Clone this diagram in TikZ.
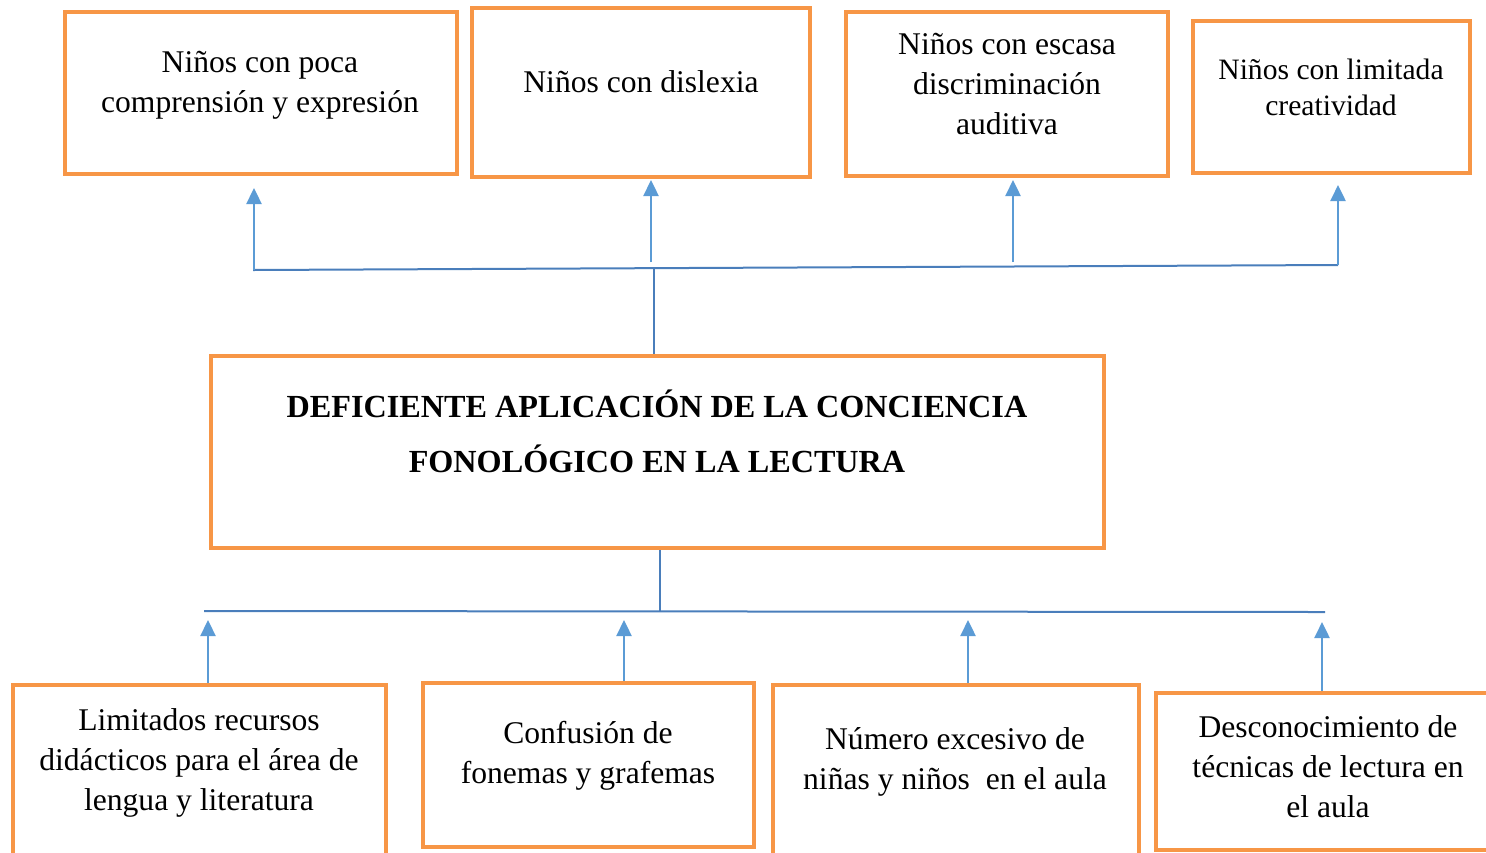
\documentclass[tikz,border=0pt]{standalone}
\usepackage{fontspec}
\setmainfont{Liberation Serif}
\usetikzlibrary{arrows.meta}
\definecolor{boxorange}{HTML}{F79646}
\definecolor{linkblue}{HTML}{4A7EBB}
\definecolor{tipblue}{HTML}{5B9BD5}
\begin{document}
\begin{tikzpicture}[x=0.5pt,y=-0.5pt]
		\tikzset{box/.style = {draw=boxorange,line width=2.2pt,inner sep=0pt}}
		\tikzset{txt/.style = {align=center,inner sep=0pt,font=\fontsize{15.8}{20}\selectfont}}
		\tikzset{link/.style = {draw=linkblue,line width=1pt}}
		\tikzset{up/.style = {draw=tipblue,line width=1.2pt,-{Triangle[width=7.5pt,length=8pt]}}}
		\useasboundingbox (0,0) rectangle (1486,852);
		% efectos
		\node[box,minimum width=196pt,minimum height=81pt] (poca) at (261,93) {};
		\node[txt] (pocatxt) at (260,85) {Niños con poca\\comprensión y expresión};
		\node[box,minimum width=169pt,minimum height=84.5pt] (dislexia) at (641,92.5) {};
		\node[txt] (dislexiatxt) at (641,82) {Niños con dislexia};
		\node[box,minimum width=161pt,minimum height=82pt] (escasa) at (1007,94) {};
		\node[txt] (escasatxt) at (1007,84) {Niños con escasa\\discriminación\\auditiva};
		\node[box,minimum width=138.5pt,minimum height=76pt] (limitada) at (1331.5,97) {};
		\node[txt,font=\fontsize{14.8}{18}\selectfont] (limitadatxt) at (1331,87) {Niños con limitada\\creatividad};
		% problema
		\node[box,minimum width=446.5pt,minimum height=96pt] (problema) at (657.5,452) {};
		\node[txt,font=\bfseries\fontsize{16.1}{27.5}\selectfont] (problematxt) at (657,431) {DEFICIENTE APLICACIÓN DE LA CONCIENCIA\\FONOLÓGICO EN LA LECTURA};
		% causas
		\node[box,minimum width=186.5pt,minimum height=107.5pt] (recursos) at (199.5,792.5) {};
		\node[txt] (recursostxt) at (199,763) {Limitados recursos\\didácticos para el área de\\lengua y literatura};
		\node[box,minimum width=165.5pt,minimum height=82pt] (confusion) at (588.5,765) {};
		\node[txt] (confusiontxt) at (588,756) {Confusión de\\fonemas y grafemas};
		\node[box,minimum width=183pt,minimum height=107.5pt] (numero) at (956,792.5) {};
		\node[txt] (numerotxt) at (955,762) {Número excesivo de\\niñas y niños~ en el aula};
		\node[box,minimum width=187pt,minimum height=78.5pt] (tecnicas) at (1343,771.5) {};
		\node[txt] (tecnicastxt) at (1328,767) {Desconocimiento de\\técnicas de lectura en\\el aula};
		% barra superior
		\coordinate (topL) at (253,270);
		\coordinate (topM) at (654,268);
		\coordinate (topR) at (1338,265);
		\coordinate (tipPoca) at (254,188);
		\coordinate (tipDislexia) at (651,180);
		\coordinate (tipEscasa) at (1013,180);
		\coordinate (tipLimitada) at (1338,185);
		\draw[link] (topL) -- (topR);
		\draw[link] (problema.north -| topM) -- (topM);
		\draw[up] (topL -| tipPoca) -- (tipPoca);
		\draw[up] (651,262) -- (tipDislexia);
		\draw[up] (1013,262) -- (tipEscasa);
		\draw[up] (topR) -- (tipLimitada);
		% barra inferior
		\coordinate (botL) at (204,611);
		\coordinate (botM) at (660,612);
		\coordinate (botR) at (1325,612);
		\coordinate (tipRecursos) at (208,620);
		\coordinate (tipConfusion) at (624,620);
		\coordinate (tipNumero) at (968,620);
		\coordinate (tipTecnicas) at (1322,622);
		\draw[link] (botL) -- (botR);
		\draw[link] (problema.south -| botM) -- (botM);
		\draw[up] (recursos.north -| tipRecursos) -- (tipRecursos);
		\draw[up] (confusion.north -| tipConfusion) -- (tipConfusion);
		\draw[up] (numero.north -| tipNumero) -- (tipNumero);
		\draw[up] (tecnicas.north -| tipTecnicas) -- (tipTecnicas);
	\end{tikzpicture}
\end{document}
